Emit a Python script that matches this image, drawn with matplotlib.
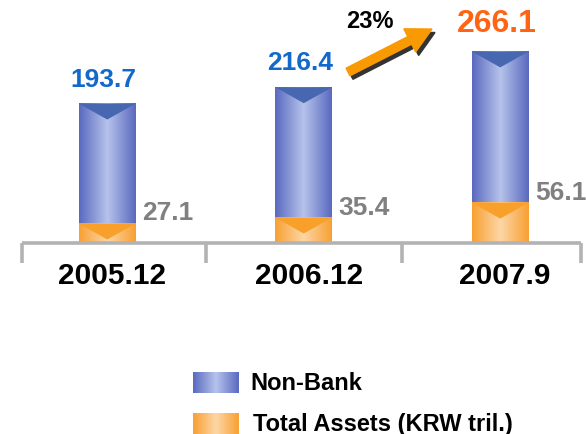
import numpy as np
import matplotlib
matplotlib.use("Agg")
import matplotlib.pyplot as plt
from matplotlib.colors import LinearSegmentedColormap
from matplotlib.patches import FancyArrow, Polygon

plt.rcParams['font.family'] = ['Liberation Sans', 'DejaVu Sans']

categories = ["2005.12", "2006.12", "2007.9"]
non_bank = [193.7, 216.4, 266.1]
total_assets = [27.1, 35.4, 56.1]
growth_label = "23%"
legend_labels = ["Non-Bank", "Total Assets (KRW tril.)"]

W, H, DPI = 586, 434, 100
fig = plt.figure(figsize=(W / DPI, H / DPI), dpi=DPI)

base_px = 243
px_per_unit = 0.72
ax_left, ax_right = 9, 598.5
ax = fig.add_axes([ax_left / W, (H - base_px) / H, (ax_right - ax_left) / W, base_px / H])
ymax = base_px / px_per_unit
ax.set_xlim(-0.5, 2.5)
ax.set_ylim(0, ymax)
ax.axis('off')

unit_px = (ax_right - ax_left) / 3.0
bw = 57 / unit_px
tri_depth = 16 / px_per_unit

blue_cmap = LinearSegmentedColormap.from_list("b", ["#5a69bf", "#b6c3eb", "#5a69bf"])
orange_cmap = LinearSegmentedColormap.from_list("o", ["#f8a032", "#fdd6a6", "#f8a032"])
grad = np.linspace(0, 1, 256).reshape(1, -1)


def grad_bar(x, h, cmap, tri_color):
    x0, x1 = x - bw / 2, x + bw / 2
    ax.imshow(grad, cmap=cmap, extent=(x0, x1, 0, h), aspect='auto', zorder=2, interpolation='bicubic')
    d = min(tri_depth, h)
    poly = Polygon([[x0, h], [x1, h], [x, h - d]], closed=True, color=tri_color, zorder=3, lw=0)
    ax.add_patch(poly)


xs = np.arange(len(categories))
for i, x in enumerate(xs):
    grad_bar(x, non_bank[i], blue_cmap, "#4767b0")
    grad_bar(x, total_assets[i], orange_cmap, "#f8a02a")

ax.set_xlim(-0.5, 2.5)
ax.set_ylim(0, ymax)

# value labels
top_colors = ["#1368cc", "#1368cc", "#ff6414"]
top_sizes = [19, 19, 23]
for i, x in enumerate(xs):
    ax.text(x - 0.02, non_bank[i] + 12 / px_per_unit, f"{non_bank[i]:.1f}", ha='center', va='bottom',
            fontsize=top_sizes[i], fontweight='bold', color=top_colors[i], zorder=5)
    ax.text(x + bw / 2 + 6 / unit_px, total_assets[i] - 2 / px_per_unit, f"{total_assets[i]:.1f}",
            ha='left', va='bottom', fontsize=19, fontweight='bold', color="#808080", zorder=5,
            clip_on=False)

# baseline and separators
left_sep = -0.5 + 13 / unit_px
right_sep = 2.5 - 18 / unit_px
ax.hlines(0, left_sep, right_sep, color="#b3b3b3", lw=2.6, zorder=4, clip_on=False)
ax.vlines([left_sep, 0.5, 1.5, right_sep], -20 / px_per_unit, 0, color="#b3b3b3",
          lw=2.6, zorder=4, clip_on=False)

# category labels
for i, x in enumerate(xs):
    ax.text(x + 0.025, -33 / px_per_unit, categories[i], ha='center', va='center', fontsize=21.5,
            fontweight='bold', color='black', clip_on=False)

# growth arrow (decoration, figure inches)
tail = (348 / DPI, (H - 72) / DPI)
tip = (432 / DPI, (H - 29) / DPI)
dx, dy = tip[0] - tail[0], tip[1] - tail[1]
shadow = FancyArrow(tail[0] + 0.03, tail[1] - 0.035, dx, dy, width=0.085, head_width=0.26,
                    head_length=0.25, length_includes_head=True, color="#333333",
                    transform=fig.dpi_scale_trans)
arrow = FancyArrow(tail[0], tail[1], dx, dy, width=0.085, head_width=0.26,
                   head_length=0.25, length_includes_head=True, color="#f99a05",
                   transform=fig.dpi_scale_trans)
fig.add_artist(shadow)
fig.add_artist(arrow)
fig.text(370 / W, 1 - 22 / H, growth_label, ha='center', va='center', fontsize=17,
         fontweight='bold', color='black')

# legend
for j, (cmap, lab) in enumerate([(blue_cmap, legend_labels[0]), (orange_cmap, legend_labels[1])]):
    y_top = 372 + j * 41
    sax = fig.add_axes([193 / W, 1 - (y_top + 21) / H, 45 / W, 21 / H])
    sax.imshow(grad, cmap=cmap, aspect='auto', interpolation='bicubic')
    sax.axis('off')
    fig.text((250 + j * 3) / W, 1 - (y_top + 11) / H, lab, ha='left', va='center', fontsize=17,
             fontweight='bold', color='black')

fig.savefig("out.png", dpi=DPI)
